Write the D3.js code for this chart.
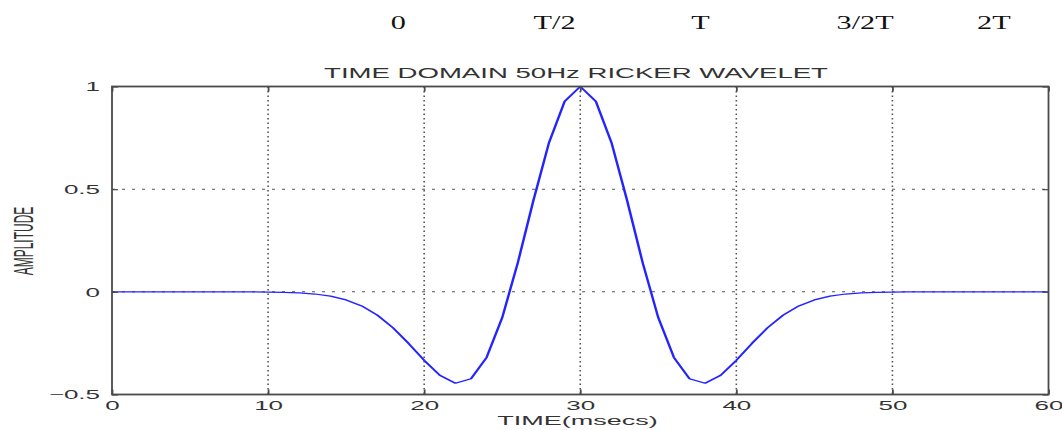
<!DOCTYPE html>
<html>
<head>
<meta charset="utf-8">
<script src="https://cdn.jsdelivr.net/npm/d3@7"></script>
<style>
  html, body { margin: 0; padding: 0; background: #fff; }
  svg { display: block; }
</style>
</head>
<body>
<svg id="chart" width="1062" height="430"></svg>
<script>
// Sample times (ms) and amplitudes of the 50 Hz Ricker wavelet, 1 ms sampling
const timeMs = [0,1,2,3,4,5,6,7,8,9,10,11,12,13,14,15,16,17,18,19,20,
  21,22,23,24,25,26,27,28,29,30,31,32,33,34,35,36,37,38,39,40,
  41,42,43,44,45,46,47,48,49,50,51,52,53,54,55,56,57,58,59,60];
const amplitude = [0,0,0,0,0,0,0,0,0,-0.0004,-0.0010,-0.0023,-0.0051,-0.0106,-0.0210,
  -0.0392,-0.0688,-0.1134,-0.1749,-0.2511,-0.3337,-0.4062,-0.4450,-0.4233,-0.3194,-0.1261,
  0.1418,0.4452,0.7272,0.9275,1,0.9275,0.7272,0.4452,0.1418,-0.1261,-0.3194,-0.4233,-0.4450,
  -0.4062,-0.3337,-0.2511,-0.1749,-0.1134,-0.0688,-0.0392,-0.0210,-0.0106,-0.0051,-0.0023,
  -0.0010,-0.0004,0,0,0,0,0,0,0,0,0];

const xTicks = [0, 10, 20, 30, 40, 50, 60];
const yTicks = [-0.5, 0, 0.5, 1];
const xGrid = [10, 20, 30, 40, 50];
const yGrid = [0, 0.5];

// Period markers written above the plot, anchored at times in ms
const periodLabels = ["0", "T/2", "T", "3/2T", "2T"];
const periodAnchors = [18.35, 28.35, 37.7, 48.25, 56.5];

const titleText = "TIME DOMAIN 50Hz RICKER WAVELET";
const xLabelText = "TIME(msecs)";
const yLabelText = "AMPLITUDE";

const svg = d3.select("#chart");
const plotLeft = 112, plotRight = 1048.5, plotTop = 86.5, plotBottom = 394.5;
const stretch = 2; // horizontal stretch of the whole figure

const x = d3.scaleLinear().domain([0, 60]).range([plotLeft, plotRight]);
const y = d3.scaleLinear().domain([-0.5, 1]).range([plotBottom, plotTop]);
// Same x mapping in the pre-stretch frame, used inside the stretched group
const xs = d3.scaleLinear().domain([0, 60]).range([plotLeft / stretch, plotRight / stretch]);

const sans = "'Liberation Sans', Arial, sans-serif";
const serif = "'Liberation Serif', 'Times New Roman', serif";

// Wide lettering: place text then stretch it horizontally about its anchor
function wideText(g, str, px, py, opts) {
  return g.append("text")
    .attr("transform", `translate(${px},${py}) scale(${opts.sx},1)` + (opts.rotate ? ` rotate(${opts.rotate})` : ""))
    .attr("text-anchor", opts.anchor || "middle")
    .attr("font-family", opts.family || sans)
    .attr("font-size", opts.size)
    .attr("fill", opts.fill || "#333")
    .text(str);
}

// Grid and trace are drawn in a horizontally stretched frame so that steep
// strokes come out wider than flat ones
const stretched = svg.append("g").attr("transform", `scale(${stretch},1)`);

stretched.selectAll("line.vg").data(xGrid).join("line")
  .attr("class", "vg")
  .attr("x1", d => xs(d)).attr("x2", d => xs(d))
  .attr("y1", plotTop).attr("y2", plotBottom)
  .attr("stroke", "#555").attr("stroke-width", 0.8)
  .attr("stroke-dasharray", "1.5,3");
stretched.selectAll("line.hg").data(yGrid).join("line")
  .attr("class", "hg")
  .attr("x1", xs(0)).attr("x2", xs(60))
  .attr("y1", d => y(d)).attr("y2", d => y(d))
  .attr("stroke", "#555").attr("stroke-width", 1)
  .attr("stroke-dasharray", "1.5,3.5");

const line = d3.line().x((d, i) => xs(timeMs[i])).y(d => y(d));
stretched.append("path")
  .datum(amplitude)
  .attr("d", line)
  .attr("fill", "none")
  .attr("stroke", "#2424ff")
  .attr("stroke-width", 1.25)
  .attr("stroke-linejoin", "round");

// Axes with inward ticks on all four sides
const axisColor = "#4a4a4a";
function styleAxis(g) {
  g.select(".domain").remove();
  g.selectAll(".tick line").attr("stroke", axisColor).attr("stroke-width", 1.8);
}

const xAxisB = svg.append("g").attr("transform", `translate(0,${plotBottom})`)
  .call(d3.axisBottom(x).tickValues(xTicks).tickSizeInner(-5).tickSizeOuter(0).tickFormat(d3.format("d")));
styleAxis(xAxisB);
xAxisB.selectAll(".tick text")
  .attr("y", 0).attr("dy", 0)
  .attr("transform", "translate(0,15) scale(2.08,1)")
  .attr("font-family", sans).attr("font-size", 12.5).attr("fill", "#333");

const xAxisT = svg.append("g").attr("transform", `translate(0,${plotTop})`)
  .call(d3.axisTop(x).tickValues(xTicks).tickSizeInner(-5).tickSizeOuter(0).tickFormat(""));
styleAxis(xAxisT);

const yAxisL = svg.append("g").attr("transform", `translate(${plotLeft},0)`)
  .call(d3.axisLeft(y).tickValues(yTicks).tickSizeInner(-6).tickSizeOuter(0).tickFormat(d3.format("")));
styleAxis(yAxisL);
yAxisL.selectAll(".tick line").attr("stroke-width", 1.2);
yAxisL.selectAll(".tick text")
  .attr("x", 0).attr("dy", "0.35em")
  .attr("transform", "translate(-12,0) scale(2.08,1)")
  .attr("text-anchor", "end")
  .attr("font-family", sans).attr("font-size", 12.5).attr("fill", "#333");

const yAxisR = svg.append("g").attr("transform", `translate(${plotRight},0)`)
  .call(d3.axisRight(y).tickValues(yTicks).tickSizeInner(-6).tickSizeOuter(0).tickFormat(""));
styleAxis(yAxisR);
yAxisR.selectAll(".tick line").attr("stroke-width", 1.2);

// Axes box
svg.append("rect")
  .attr("x", plotLeft).attr("y", plotTop)
  .attr("width", plotRight - plotLeft).attr("height", plotBottom - plotTop)
  .attr("fill", "none").attr("stroke", axisColor).attr("stroke-width", 1.8);

// Title and axis labels
wideText(svg, titleText, 576, 77.7, { sx: 1.97, size: 14 });
wideText(svg, xLabelText, 577.5, 424.5, { sx: 2.08, size: 13 });
wideText(svg, yLabelText, 33, 241, { sx: 2.3, size: 12, rotate: -90 });

// Period markers
const marks = svg.append("g");
periodLabels.forEach((lab, i) => {
  wideText(marks, lab, x(periodAnchors[i]), 29.3, { sx: 1.68, size: 18, family: serif, fill: "#111" });
});
</script>
</body>
</html>
